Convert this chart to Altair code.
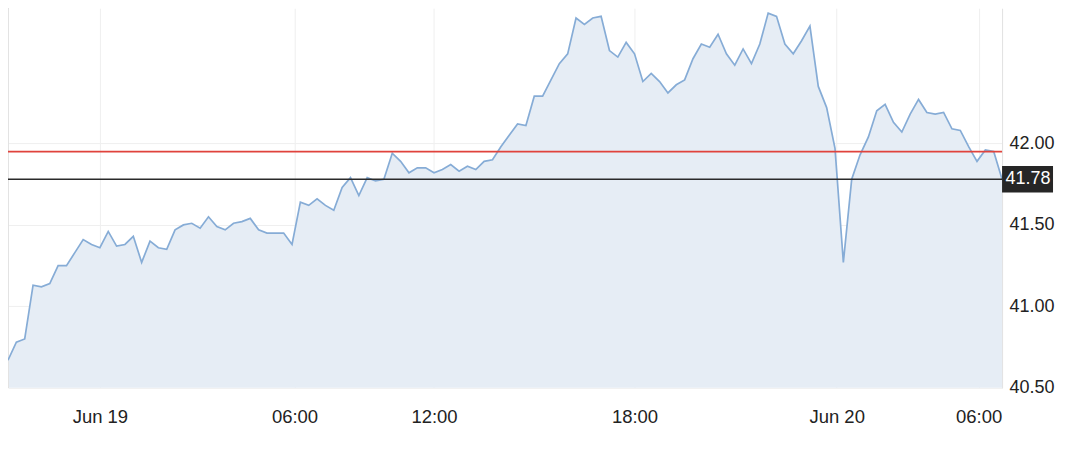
import altair as alt
import pandas as pd

# Price series (equally spaced trading intervals)
prices = [
    40.67, 40.78, 40.80, 41.13, 41.12, 41.14, 41.25, 41.25, 41.33, 41.41,
    41.38, 41.36, 41.46, 41.37, 41.38, 41.43, 41.27, 41.40, 41.36, 41.35,
    41.47, 41.50, 41.51, 41.48, 41.55, 41.49, 41.47, 41.51, 41.52, 41.54,
    41.47, 41.45, 41.45, 41.45, 41.38, 41.64, 41.62, 41.66, 41.62, 41.59,
    41.73, 41.79, 41.68, 41.79, 41.77, 41.78, 41.94, 41.89, 41.82, 41.85,
    41.85, 41.82, 41.84, 41.87, 41.83, 41.86, 41.84, 41.89, 41.90, 41.98,
    42.05, 42.12, 42.11, 42.29, 42.29, 42.39, 42.49, 42.55, 42.77, 42.73,
    42.77, 42.78, 42.57, 42.53, 42.62, 42.55, 42.38, 42.43, 42.38, 42.31,
    42.36, 42.39, 42.52, 42.61, 42.59, 42.67, 42.55, 42.48, 42.58, 42.49,
    42.61, 42.80, 42.78, 42.61, 42.55, 42.63, 42.72, 42.35, 42.22, 41.97,
    41.27, 41.78, 41.93, 42.04, 42.20, 42.24, 42.13, 42.07, 42.18, 42.27,
    42.19, 42.18, 42.19, 42.09, 42.08, 41.98, 41.89, 41.96, 41.95, 41.78,
]

tick_pos = [11, 34.3, 51, 75, 99.2, 116.2]
tick_text = ["Jun 19", "06:00", "12:00", "18:00", "Jun 20", "06:00"]
y_ticks = [40.5, 41.0, 41.5, 42.0]
y_domain = [40.5, 42.83]
ref_level = 41.95
last_price = prices[-1]

df = pd.DataFrame({"i": list(range(len(prices))), "price": prices})
levels = pd.DataFrame({"level": [ref_level]})
last_df = pd.DataFrame({"price": [last_price]})

label_expr = " : ".join(
    f"datum.value == {p} ? '{t}'" for p, t in zip(tick_pos, tick_text)
) + " : ''"

FONT = "Liberation Sans"

x_enc = alt.X(
    "i:Q",
    scale=alt.Scale(domain=[0, len(prices) - 1], nice=False, zero=False),
    axis=alt.Axis(
        values=tick_pos, labelExpr=label_expr, title=None, grid=True,
        gridColor="#efefef", domain=False, ticks=False, labelPadding=20,
        labelFontSize=18.5, labelColor="#222222", labelFont=FONT,
        labelOverlap=False,
    ),
)
y_scale = alt.Scale(domain=y_domain, nice=False, zero=False)
y_enc = alt.Y(
    "price:Q",
    scale=y_scale,
    axis=alt.Axis(
        orient="right", values=y_ticks, format=".2f", title=None, grid=True,
        gridColor="#efefef", domain=True, domainColor="#e2e2e2", ticks=False,
        labelPadding=7, labelFontSize=18, labelColor="#222222", labelFont=FONT,
    ),
)

area = alt.Chart(df).mark_area(color="#e6edf5", opacity=1).encode(
    x=x_enc, y=y_enc, y2=alt.Y2(datum=y_domain[0])
)
line = alt.Chart(df).mark_line(color="#86acd6", strokeWidth=1.7).encode(x="i:Q", y="price:Q")

left_edge = alt.Chart(df).mark_rule(color="#e2e2e2", strokeWidth=1).encode(x=alt.datum(0))

red_rule = alt.Chart(levels).mark_rule(color="#e0433c", strokeWidth=1.6).encode(
    y=alt.Y("level:Q", scale=y_scale)
)
black_rule = alt.Chart(last_df).mark_rule(color="#2a2a2a", strokeWidth=1.6).encode(
    y=alt.Y("price:Q", scale=y_scale)
)

box = alt.Chart(last_df).transform_calculate(
    lo="datum.price - 0.081", hi="datum.price + 0.081"
).mark_rect(color="#262626").encode(
    x=alt.value(alt.expr("width")),
    x2=alt.value(alt.expr("width + 51")),
    y=alt.Y("lo:Q", scale=y_scale),
    y2="hi:Q",
)
box_text = alt.Chart(last_df).mark_text(
    color="white", fontSize=18, font=FONT, align="center", baseline="middle"
).encode(
    x=alt.value(alt.expr("width + 26")),
    y=alt.Y("price:Q", scale=y_scale),
    text=alt.Text("price:Q", format=".2f"),
)

chart = alt.layer(
    area, left_edge, line, red_rule, black_rule, box, box_text
).properties(
    width=995, height=380,
    autosize=alt.AutoSizeParams(type="none"),
    padding={"left": 0, "top": 0, "right": 70, "bottom": 55},
).configure_view(stroke=None)

chart.save("out.html", embed_options={"renderer": "svg", "actions": False})
